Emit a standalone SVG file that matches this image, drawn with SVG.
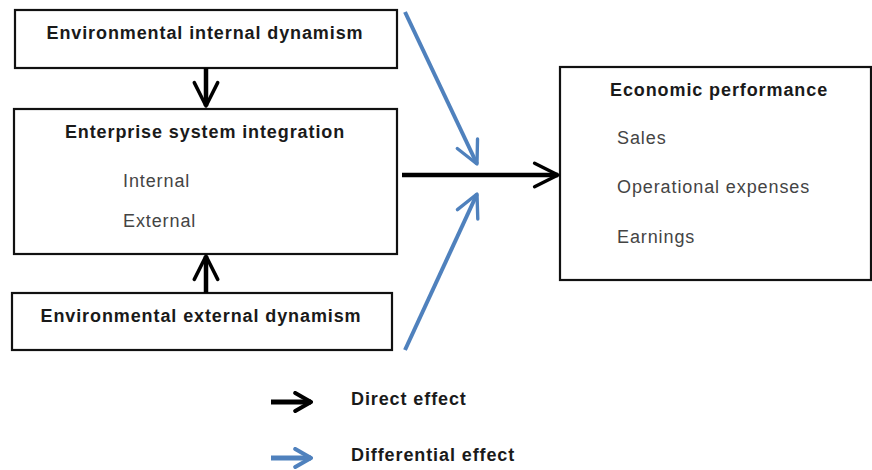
<svg xmlns="http://www.w3.org/2000/svg" width="872" height="470" viewBox="0 0 872 470">
<style>
.box{fill:#fff;stroke:#111;stroke-width:2.2}
.t{font-family:"Liberation Sans",Arial,sans-serif;font-weight:bold;font-size:18px;letter-spacing:0.9px;fill:#1a1a1a}
.s{font-family:"Liberation Sans",Arial,sans-serif;font-size:18px;letter-spacing:0.9px;fill:#444}
.blk{stroke:#000;stroke-width:4.5;fill:none}
.blu{stroke:#4f81bd;stroke-width:4;fill:none}
.lg{stroke-width:5}
</style>
<defs>
<marker id="ab" viewBox="0 0 10 10" refX="9" refY="5" markerWidth="6.5" markerHeight="6.5" markerUnits="strokeWidth" orient="auto"><path d="M1,1 L9,5 L1,9" fill="none" stroke="#000" stroke-width="1.2" stroke-linecap="round" stroke-linejoin="round"/></marker>
<marker id="au" viewBox="0 0 10 10" refX="9" refY="5" markerWidth="7" markerHeight="7" markerUnits="strokeWidth" orient="auto"><path d="M1,1 L9,5 L1,9" fill="none" stroke="#4f81bd" stroke-width="1.2" stroke-linecap="round" stroke-linejoin="round"/></marker>
<marker id="lb" viewBox="0 0 10 10" refX="9" refY="5" markerWidth="4.5" markerHeight="4.5" markerUnits="strokeWidth" orient="auto"><path d="M2,1 L9,5 L2,9" fill="none" stroke="#000" stroke-width="1.8" stroke-linecap="round" stroke-linejoin="round"/></marker>
<marker id="lu" viewBox="0 0 10 10" refX="9" refY="5" markerWidth="4.5" markerHeight="4.5" markerUnits="strokeWidth" orient="auto"><path d="M2,1 L9,5 L2,9" fill="none" stroke="#4f81bd" stroke-width="1.8" stroke-linecap="round" stroke-linejoin="round"/></marker>
</defs>
<rect width="872" height="470" fill="#fff"/>
<g id="n1"><rect class="box" x="15" y="10" width="382" height="58"/><text class="t" x="205" y="39" text-anchor="middle">Environmental internal dynamism</text></g>
<g id="n2"><rect class="box" x="14" y="109" width="383" height="145"/><text class="t" x="205" y="138" text-anchor="middle">Enterprise system integration</text><text class="s" x="123" y="187">Internal</text><text class="s" x="123" y="227">External</text></g>
<g id="n3"><rect class="box" x="12" y="293" width="380" height="57"/><text class="t" x="201" y="322" text-anchor="middle">Environmental external dynamism</text></g>
<g id="n4"><rect class="box" x="560" y="67" width="311" height="213"/><text class="t" x="610" y="96">Economic performance</text><text class="s" x="617" y="144">Sales</text><text class="s" x="617" y="193">Operational expenses</text><text class="s" x="617" y="243">Earnings</text></g>
<g id="connectors">
<line class="blk" x1="206" y1="68" x2="206" y2="106" marker-end="url(#ab)"/>
<line class="blk" x1="206" y1="293" x2="206" y2="256" marker-end="url(#ab)"/>
<line class="blk" x1="402" y1="175" x2="558" y2="175" marker-end="url(#ab)"/>
<line class="blu" x1="405" y1="12" x2="477" y2="164" marker-end="url(#au)"/>
<line class="blu" x1="405" y1="350" x2="477" y2="194" marker-end="url(#au)"/>
</g>
<g id="legend">
<line class="blk lg" x1="271" y1="402" x2="311" y2="402" marker-end="url(#lb)"/>
<text class="t" x="351" y="405">Direct effect</text>
<line class="blu lg" x1="271" y1="458" x2="311" y2="458" marker-end="url(#lu)"/>
<text class="t" x="351" y="461">Differential effect</text>
</g>
</svg>
